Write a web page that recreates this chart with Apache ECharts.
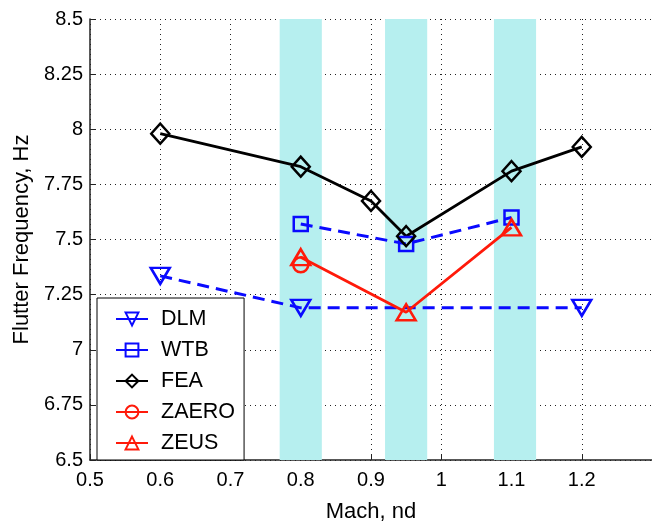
<!DOCTYPE html>
<html>
<head>
<meta charset="utf-8">
<script src="https://cdn.jsdelivr.net/npm/echarts@6/dist/echarts.min.js"></script>
<style>
html,body{margin:0;padding:0;background:#fff;}
#chart{width:652px;height:522px;}
</style>
</head>
<body>
<div id="chart"></div>
<script>
// ---- data ----
const machDLM = [0.6, 0.8, 1.2];
const freqDLM = [7.335, 7.19, 7.19];
const machWTB = [0.8, 0.95, 1.1];
const freqWTB = [7.57, 7.48, 7.6];
const machFEA = [0.6, 0.8, 0.9, 0.95, 1.1, 1.2];
const freqFEA = [7.98, 7.83, 7.675, 7.515, 7.81, 7.92];
const machZAERO = [0.8];
const freqZAERO = [7.385];
const machZEUS = [0.8, 0.95, 1.1];
const freqZEUS = [7.42, 7.17, 7.555];
const bandStart = [0.77, 0.92, 1.075];
const bandEnd = [0.83, 0.98, 1.135];
const seriesNames = ['DLM', 'WTB', 'FEA', 'ZAERO', 'ZEUS'];
const xTickMin = 0.5, xTickMax = 1.3, xTickStep = 0.1;
const yTickMin = 6.5, yTickMax = 8.5, yTickStep = 0.25;

const pairs = (xs, ys) => xs.map((x, i) => [x, ys[i]]);
const FONT = 'Liberation Sans';
const BLUE = '#0a0aff', RED = '#ff1a0a', BLACK = '#000';

function lineSeries(name, xs, ys, color, symbol, size, dashed, rotate) {
  return {
    name: name,
    type: 'line',
    data: pairs(xs, ys),
    symbol: symbol,
    symbolSize: size,
    symbolRotate: rotate || 0,
    showAllSymbol: true,
    z: 3,
    lineStyle: { color: color, width: dashed ? 3 : 2.8, type: dashed ? [12, 7] : 'solid' },
    itemStyle: { color: 'rgba(0,0,0,0)', borderColor: color, borderWidth: 2.5 },
    emphasis: { disabled: true },
    animation: false
  };
}

const chart = echarts.init(document.getElementById('chart'), null, { renderer: 'canvas' });
const axisCommon = {
  axisLine: { show: true, onZero: false, lineStyle: { color: '#222', width: 1.5 } },
  axisTick: { show: true, inside: true, length: 5, lineStyle: { color: '#222', width: 1 } },
  splitLine: { show: true, lineStyle: { color: '#222', width: 1, type: [1, 4] } },
  axisLabel: { color: '#000', fontFamily: FONT, fontSize: 20 },
  nameTextStyle: { color: '#000', fontFamily: FONT, fontSize: 22 }
};
const fmt = v => String(+v.toFixed(2));

chart.setOption({
  animation: false,
  backgroundColor: '#fff',
  grid: { left: 90, right: 0, top: 19, bottom: 62, containLabel: false, outerBoundsMode: 'none' },
  xAxis: Object.assign({}, axisCommon, {
    type: 'value', min: xTickMin, max: xTickMax, interval: xTickStep,
    name: 'Mach, nd', nameLocation: 'middle', nameGap: 41,
    axisLabel: Object.assign({}, axisCommon.axisLabel, { margin: 10,
      formatter: v => (v > xTickMax - 0.01 ? '' : fmt(v)) })
  }),
  yAxis: Object.assign({}, axisCommon, {
    type: 'value', min: yTickMin, max: yTickMax, interval: yTickStep,
    name: 'Flutter Frequency, Hz', nameLocation: 'middle', nameGap: 56,
    axisLabel: Object.assign({}, axisCommon.axisLabel, { margin: 7, formatter: fmt })
  }),
  legend: {
    orient: 'vertical', left: 97, top: 298,
    data: seriesNames,
    backgroundColor: '#fff', borderColor: '#000', borderWidth: 1,
    padding: [10, 9, 6, 18],
    itemWidth: 32, itemHeight: 16, itemGap: 9,
    lineStyle: { type: 'solid' },
    textStyle: { fontFamily: FONT, fontSize: 21.5, color: '#000', lineHeight: 21, padding: [0, 0, 0, 8] },
    selectedMode: false
  },
  series: [
    {
      name: 'bands', type: 'line', data: [], z: -1, silent: true,
      markArea: {
        silent: true,
        itemStyle: { color: '#b6efef' },
        data: bandStart.map((s, i) => [{ xAxis: s }, { xAxis: bandEnd[i] }])
      }
    },
    lineSeries('DLM', machDLM, freqDLM, BLUE, 'triangle', [19, 16], true, 180),
    lineSeries('WTB', machWTB, freqWTB, BLUE, 'rect', 14, true),
    lineSeries('FEA', machFEA, freqFEA, BLACK, 'diamond', [18, 20], false),
    lineSeries('ZAERO', machZAERO, freqZAERO, RED, 'circle', 15, false),
    lineSeries('ZEUS', machZEUS, freqZEUS, RED, 'triangle', [19, 16], false)
  ]
});
</script>
</body>
</html>
